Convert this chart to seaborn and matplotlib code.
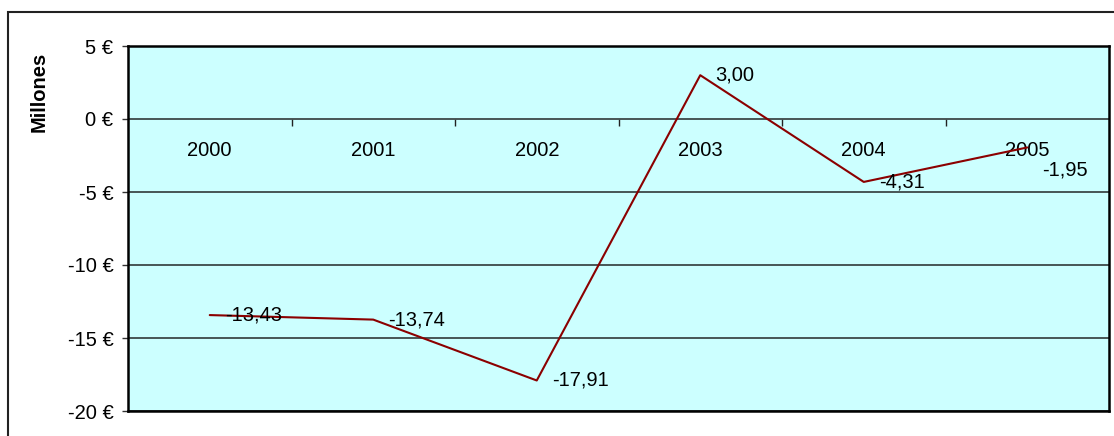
import numpy as np
import pandas as pd
import matplotlib
matplotlib.use("Agg")
import matplotlib.pyplot as plt
from matplotlib.patches import Rectangle
from matplotlib.ticker import FixedLocator, FuncFormatter
import seaborn as sns

years = ["2000", "2001", "2002", "2003", "2004", "2005"]
values = [-13.43, -13.74, -17.91, 3.00, -4.31, -1.95]
value_labels = ["-13,43", "-13,74", "-17,91", "3,00", "-4,31", "-1,95"]
y_ticks = [5, 0, -5, -10, -15, -20]
y_label = "Millones"

sns.set_theme(style="white")
plt.rcParams["font.family"] = ["Liberation Sans", "DejaVu Sans"]
FS = 14.5

W, H = 1114, 436
fig = plt.figure(figsize=(W / 100, H / 100), dpi=100)
fig.patch.set_facecolor("white")

left, right, top, bottom = 128, 1109, 46, 411
ax = fig.add_axes([left / W, 1 - bottom / H, (right - left) / W, (bottom - top) / H])
ax.set_facecolor("#CCFFFF")

df = pd.DataFrame({"pos": np.arange(len(years)), "val": values})
sns.lineplot(data=df, x="pos", y="val", ax=ax, color="#8B0000", linewidth=1.5, zorder=5)

ax.set_xlim(-0.5, len(years) - 0.5)
ax.set_ylim(-20, 5)
ax.set_xlabel("")
ax.set_ylabel("")
ax.set_xticks([])

# horizontal gridlines
ax.yaxis.set_major_locator(FixedLocator(y_ticks))
ax.yaxis.set_major_formatter(FuncFormatter(lambda v, p: f"{int(round(v))} €".replace("\u2212", "-")))
ax.grid(True, axis="y", color="#3c4848", linewidth=1.3)
ax.grid(False, axis="x")
ax.tick_params(axis="y", which="major", left=True, direction="out", length=4.5, width=1,
               color="#333333", pad=6, labelsize=FS, labelcolor="black")

for s in ax.spines.values():
    s.set_visible(True)
    s.set_color("black")
    s.set_linewidth(1.8)

# category axis crossing at y=0
y0_frac = (0 - (-20)) / 25
secax = ax.secondary_xaxis(y0_frac)
secax.set_alignment("bottom")
secax.set_xticks(np.arange(len(years)), labels=years)
secax.set_xticks(np.arange(len(years) - 1) + 0.5, minor=True)
secax.tick_params(axis="x", which="major", length=0, pad=15.5, labelsize=FS, labelcolor="black")
secax.tick_params(axis="x", which="minor", length=5, width=1, color="#222222", direction="out")
for s in secax.spines.values():
    s.set_visible(False)

# data labels
label_dy = [0, 0, 0, 0, 0, -16]
for i, (v, t) in enumerate(zip(values, value_labels)):
    ax.annotate(t, xy=(i, v), xytext=(11, label_dy[i]), textcoords="offset points",
                ha="left", va="center", fontsize=FS, color="black", zorder=6)

ax.set_ylabel(y_label, fontsize=FS, fontweight="bold", color="black")
ax.yaxis.set_label_coords((49 - left) / (right - left), (bottom - 92) / (bottom - top))

# outer chart frame
fig.patches.append(Rectangle((8 / W, -0.2), 1.2, (H - 12) / H + 0.2, transform=fig.transFigure,
                             fill=False, edgecolor="#222222", linewidth=1.5, zorder=0))

fig.savefig("out.png", dpi=100)
